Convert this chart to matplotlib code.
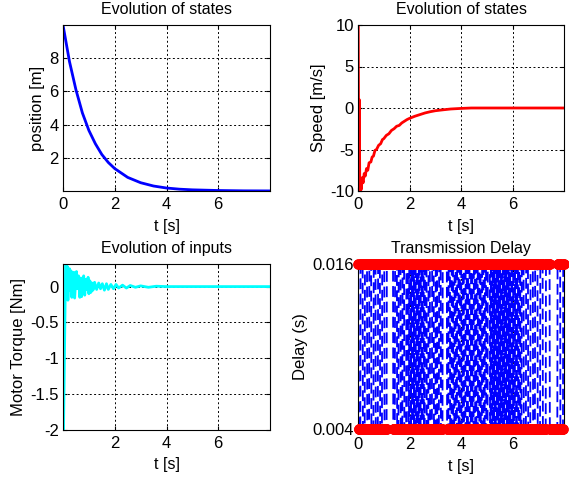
import numpy as np
import matplotlib
matplotlib.use("Agg")
import matplotlib.pyplot as plt

plt.rcParams['font.family'] = ['Liberation Sans', 'DejaVu Sans']
plt.rcParams['font.size'] = 11.5

# ---- data: position ----
t_pos = [0, 0.25, 0.5, 0.75, 1.0, 1.25, 1.5, 1.75, 2.0, 2.5, 3.0, 3.5, 4.0, 4.5, 5, 6, 7, 8]
pos = [10, 7.8, 6.1, 4.7, 3.65, 2.85, 2.2, 1.72, 1.35, 0.82, 0.5, 0.3, 0.18, 0.11, 0.07, 0.03, 0.01, 0.005]

# ---- data: speed ----
t_spd = [0, 0.01, 0.03, 0.05, 0.07, 0.1, 0.13, 0.16, 0.2, 0.24, 0.28, 0.33, 0.38, 0.43, 0.5,
         0.55, 0.6, 0.66, 0.72, 0.8, 0.88, 0.95, 1.0, 1.1, 1.2, 1.3, 1.4, 1.5, 1.6, 1.7,
         1.8, 1.9, 2.0, 2.2, 2.4, 2.6, 2.8, 3.0, 3.3, 3.6, 4.0, 4.4, 8]
spd = [10, 10, -10, 1.0, -10, -9.2, -9.8, -8.4, -9.0, -7.9, -8.2, -7.3, -7.5, -6.6, -6.5,
       -5.9, -5.8, -5.1, -5.0, -4.5, -4.3, -3.8, -3.7, -3.3, -3.1, -2.7, -2.5, -2.2, -2.1, -1.8,
       -1.6, -1.4, -1.25, -1.0, -0.8, -0.6, -0.45, -0.33, -0.22, -0.12, -0.05, 0, 0]

# ---- data: motor torque ----
t_tq = [0, 0.02, 0.1, 0.13, 0.15, 0.17, 0.19, 0.22, 0.25, 0.28, 0.31, 0.34, 0.38, 0.42, 0.45,
        0.49, 0.52, 0.56, 0.6, 0.65, 0.69, 0.72, 0.76, 0.8, 0.84, 0.88, 0.92, 0.97, 1.0, 1.04,
        1.08, 1.12, 1.16, 1.22, 1.3, 1.38, 1.45, 1.52, 1.6, 1.68, 1.75, 1.85, 1.95, 2.05, 2.15,
        2.3, 2.45, 2.6, 2.8, 3.0, 3.3, 3.6, 4.0, 8]
torque = [-0.7, -2.0, 0.3, 0.31, -0.05, 0.28, -0.19, 0.1, 0.25, -0.05, 0.22, -0.15, 0.05, 0.2, -0.16,
          0.08, 0.21, -0.03, 0.15, -0.15, 0.12, -0.14, 0.06, 0.15, -0.12, 0.1, -0.04, 0.13, -0.1, 0.08,
          -0.08, 0.05, -0.05, 0.06, -0.04, 0.05, -0.03, 0.04, -0.05, 0.04, -0.04, 0.03, -0.03, 0.03, -0.02,
          0.02, -0.02, 0.015, -0.01, 0.01, -0.01, 0.005, 0, 0]

# ---- data: transmission delay (levels and switching instants) ----
delay_levels = [0.004, 0.016]
delay_start_level = 0.016
delay_switch_times = [
    0.02, 0.10, 0.19, 0.27, 0.36, 0.44, 0.52, 0.61, 0.69, 0.78, 0.86, 0.94, 1.03, 1.12,
    1.37, 1.44, 1.52, 1.58, 1.66, 1.73, 1.80, 1.88, 1.95, 1.99, 2.03, 2.07, 2.10, 2.14, 2.18,
    2.21, 2.25, 2.29, 2.33, 2.36, 2.40, 2.44, 2.48, 2.52, 2.56, 2.60,
    2.67, 2.74, 2.80, 2.88, 2.95, 3.02, 3.08, 3.15, 3.22, 3.29,
    3.46, 3.52, 3.58, 3.64, 3.70, 3.75,
    3.80, 3.85, 3.91, 3.96, 4.02, 4.07, 4.12, 4.18, 4.23, 4.28, 4.34, 4.39, 4.45, 4.50, 4.55,
    4.61, 4.66, 4.72, 4.77, 4.82, 4.88, 4.93, 4.98, 5.04,
    5.13, 5.16, 5.19, 5.23, 5.26, 5.29, 5.32, 5.36, 5.39, 5.42, 5.46, 5.49, 5.52, 5.56, 5.59,
    5.62, 5.66, 5.69, 5.72, 5.76, 5.79, 5.82, 5.86, 5.89, 5.92, 5.96, 5.99, 6.03, 6.06, 6.10,
    6.14, 6.18, 6.22, 6.26, 6.31, 6.36,
    6.44, 6.53, 6.61, 6.70, 6.80, 6.88, 6.98, 7.08, 7.18, 7.30, 7.45,
    7.75, 7.86, 7.97,
]
delay_t_end = 8.0
delay_dt = 0.01

# sample grid and delay sequence built from the switching list
t_d = np.arange(0, delay_t_end + delay_dt / 2, delay_dt)
n_sw = np.searchsorted(np.array(delay_switch_times), t_d, side='right')
other = delay_levels[0] if delay_start_level == delay_levels[1] else delay_levels[1]
delay = np.where(n_sw % 2 == 0, delay_start_level, other)

W, H = 569, 479
fig = plt.figure(figsize=(W / 100, H / 100), dpi=100)
fig.patch.set_facecolor('white')

TICK_FS = 12
LABEL_FS = 12
TITLE_FS = 11.5

def ax_at(l, r, t, b):
    return fig.add_axes([l / W, (H - b) / H, (r - l) / W, (b - t) / H])

def style(ax, title, xl, yl, xpad=4.0):
    ax.grid(True, color='black', linestyle=(0, (2, 2.5)), linewidth=0.7)
    ax.set_axisbelow(True)
    ax.tick_params(direction='in', length=3, top=True, right=True, width=0.8,
                   labelsize=TICK_FS)
    ax.tick_params(axis='x', pad=xpad)
    ax.tick_params(axis='y', pad=3)
    for s in ax.spines.values():
        s.set_linewidth(0.8)
    ax.set_title(title, pad=8, fontsize=TITLE_FS)
    ax.set_xlabel(xl, labelpad=5, fontsize=TITLE_FS)
    ax.set_ylabel(yl, labelpad=3, fontsize=LABEL_FS)

ax1 = ax_at(63, 270, 25, 191)
ax2 = ax_at(358, 564, 25, 191)
ax3 = ax_at(63, 270, 264, 430)
ax4 = ax_at(358, 564, 264, 429)

# position
ax1.plot(t_pos, pos, color='#0000ff', lw=2)
ax1.set_xlim(0, 8)
ax1.set_ylim(0, 10)
ax1.set_xticks([0, 2, 4, 6])
ax1.set_yticks([2, 4, 6, 8])
style(ax1, 'Evolution of states', 't [s]', 'position [m]')

# speed
ax2.plot(t_spd, spd, color='#ff0000', lw=2)
ax2.set_xlim(0, 8)
ax2.set_ylim(-10, 10)
ax2.set_xticks([0, 2, 4, 6])
ax2.set_yticks([-10, -5, 0, 5, 10])
ax2.set_yticklabels(['-10', '-5', '0', '5', '10'])
style(ax2, 'Evolution of states', 't [s]', 'Speed [m/s]')

# torque
ax3.plot(t_tq, torque, color='#00ffff', lw=2)
ax3.set_xlim(0, 8)
ax3.set_ylim(-2, 0.315)
ax3.set_xticks([2, 4, 6])
ax3.set_yticks([-2, -1.5, -1, -0.5, 0])
ax3.set_yticklabels(['-2', '-1.5', '-1', '-0.5', '0'])
style(ax3, 'Evolution of inputs', 't [s]', 'Motor Torque [Nm]')

# delay
ax4.plot(t_d, delay, color='#0000ff', lw=1.3, linestyle=(0, (6, 2.5)))
ax4.plot(t_d, delay, linestyle='none', marker='o', markersize=6.5,
         markerfacecolor='#ff0000', markeredgecolor='#ff0000', clip_on=False, zorder=5)
ax4.set_xlim(0, 8)
ax4.set_ylim(0.004, 0.016)
ax4.set_xticks([0, 2, 4, 6])
ax4.set_yticks([0.004, 0.016])
ax4.set_yticklabels(['0.004', '0.016'])
style(ax4, 'Transmission Delay', 't [s]', 'Delay (s)', xpad=6)

fig.savefig('out.png', dpi=100, facecolor='white')
